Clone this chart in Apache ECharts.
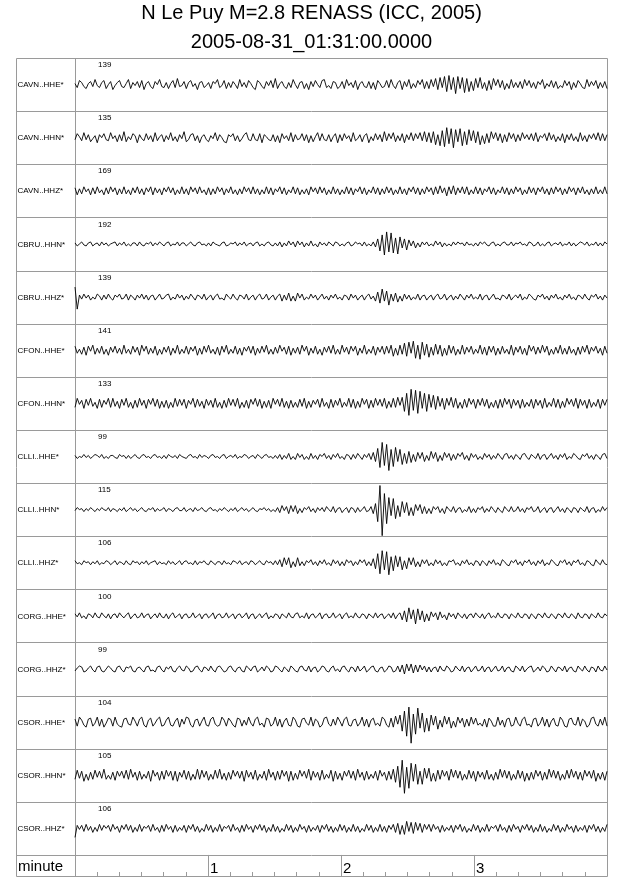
<!DOCTYPE html>
<html><head><meta charset="utf-8">
<script src="https://cdn.jsdelivr.net/npm/echarts@6/dist/echarts.min.js"></script>
<style>html,body{margin:0;padding:0;background:#fff}#c{width:640px;height:878px}</style>
</head><body><div id="c"></div>
<script>
const titleLines = ['N Le Puy M=2.8 RENASS (ICC, 2005)', '2005-08-31_01:31:00.0000'];
const stations = ['CAVN..HHE*','CAVN..HHN*','CAVN..HHZ*','CBRU..HHN*','CBRU..HHZ*','CFON..HHE*','CFON..HHN*','CLLI..HHE*','CLLI..HHN*','CLLI..HHZ*','CORG..HHE*','CORG..HHZ*','CSOR..HHE*','CSOR..HHN*','CSOR..HHZ*'];
const maxCounts = [139,135,169,192,139,141,133,99,115,106,100,99,104,105,106];
const axisName = 'minute';
const tickLabels = ['1','2','3'];
const timeRange = [0, 4]; // minutes

const cavnHHE = [
1,-3,4,2,-2,-4,1,3,-2,5,-1,-3,2,4,-4,0,3,-5,-1,2,
4,-2,-3,1,5,-4,2,-1,3,-3,4,-5,1,3,-2,-4,3,0,5,-2,
-3,2,-4,1,4,-3,6,-2,-1,3,-4,2,4,-2,1,-5,2,3,-3,-1,
2,-4,3,1,5,-3,-1,4,-4,2,-3,3,0,-4,5,-2,2,-3,4,1,
-3,-5,4,2,-2,-4,3,-1,4,-3,6,-4,1,3,-2,-4,2,-3,5,0,
-4,2,3,-4,1,-5,3,-2,4,0,-3,4,5,-3,-1,-4,3,2,-4,-2,
3,-4,5,-1,2,-3,4,-5,1,3,-2,-3,3,-4,2,-5,4,1,-3,-2,
4,-3,5,-1,-4,2,4,-5,3,-2,5,-4,1,-3,4,0,5,-4,3,-4,
5,-2,6,-5,7,-3,8,-7,9,-5,7,-9,8,-4,7,-8,6,-7,3,-6,
6,-3,7,-4,2,-6,4,-5,6,-1,5,-3,4,-5,1,-4,5,-3,2,-3,
3,-4,5,-1,4,-3,2,-4,3,0,5,-4,1,-2,4,-3,3,-4,-1,-3,
4,-1,3,-5,2,-3,4,1,-3,-4,5,-2,3,-1,4,-4,2,-3,3,-4];
const cavnHHN = [
-2,4,1,-3,5,-2,3,-4,-1,2,-5,3,0,4,-2,-3,5,-1,2,-4,
3,-3,6,-4,1,-2,4,2,-5,3,-1,-3,4,-2,2,-4,5,-3,1,3,
-4,2,-2,5,-3,1,-4,3,-1,6,-4,-2,3,4,-3,2,-5,1,3,-2,
-4,2,-1,5,-3,3,0,-4,-5,3,1,4,-3,2,-4,-1,3,5,-2,-3,
4,-2,-3,4,-5,3,1,-2,-3,3,-4,2,-5,4,-1,2,-3,5,-4,3,
-2,-1,4,-3,3,-5,2,-4,1,5,-3,4,-2,-3,3,-4,1,4,-5,3,
-3,4,-1,2,-4,5,-3,-1,3,-4,2,4,-5,1,-3,4,-2,3,-4,6,
-3,4,-1,5,-4,2,-3,4,-5,3,-2,5,-3,4,-1,5,-3,6,-4,5,
-5,6,-7,3,-8,7,-9,10,-6,9,-10,8,-4,9,-8,6,-7,8,-3,7,
-5,6,-7,2,-6,4,-5,6,-1,5,-3,4,-5,3,-4,5,-1,4,-4,3,
-3,5,-1,3,-2,4,-3,5,-4,2,0,4,-3,5,-2,3,-4,1,-3,4,
-5,3,-2,4,-3,1,-4,5,-3,2,-4,3,-1,4,-2,5,-3,4,-3,3];
const cavnHHZ = [
3,-4,2,-3,4,-1,2,-4,3,-3,4,-2,1,-4,3,-3,4,-1,3,-4,
2,-3,4,-3,1,-4,3,-2,4,-3,2,-4,3,-1,4,-4,3,-2,2,-4,
3,-1,4,-2,3,-4,1,-3,4,-3,2,-4,4,-1,3,-3,4,-2,1,-4,
3,-4,2,-3,4,-1,3,-4,2,-2,4,-3,1,-4,2,-3,4,-1,3,-3,
4,-3,2,-4,1,-3,4,-3,3,-4,2,-1,4,-3,3,-4,1,-2,4,-3,
3,-4,1,-3,2,-4,4,-1,3,-3,4,-2,3,-4,1,-3,4,-3,2,-4,
1,-3,4,-3,3,-4,2,-1,4,-3,3,-4,1,-2,4,-3,3,-4,2,-3,
4,-2,3,-4,1,-3,4,-3,2,-4,3,-1,4,-3,3,-4,2,-3,4,-1,
3,-4,4,-3,5,-2,3,-5,4,-3,5,-4,3,-2,4,-3,4,-4,1,-3,
4,-3,3,-4,2,-1,4,-3,3,-4,1,-2,4,-3,3,-4,2,-3,4,-1,
3,-4,1,-3,4,-2,3,-4,3,-1,4,-3,2,-4,3,-3,4,-1,3,-4,
2,-3,4,-1,3,-4,3,-2,4,-3,1,-4,2,-3,4,-3,1,-3,4,-3];
const cbruHHN = [
1,-2,0,2,-1,-2,1,2,-2,0,1,-2,2,-1,1,-2,0,1,2,-2,
1,-1,2,-2,0,-2,1,1,-2,2,-1,-2,1,0,2,-2,1,-1,2,0,
-2,1,2,-2,0,-1,2,-2,1,1,-2,0,2,-1,-2,1,2,-1,0,-2,
1,-2,2,0,-1,-2,1,2,-2,-1,1,0,2,-2,1,-1,2,-2,0,1,
-2,1,2,-2,0,-2,1,2,-1,-2,1,-2,2,-3,1,-2,3,-1,2,-3,
3,-1,2,-3,1,-2,3,-2,0,-3,2,-1,1,-2,2,0,-2,2,1,-2,
0,-2,1,2,-2,-1,2,0,1,-2,2,-2,0,-2,2,-3,5,-7,9,-11,
12,-8,11,-9,6,-10,7,-4,5,-6,4,-2,3,-4,1,-3,2,-1,2,-2,
0,-2,3,-1,2,-3,1,-2,0,-2,2,-1,2,0,1,-2,2,-1,0,-2,
1,-2,2,0,2,-1,-2,1,2,-2,0,-2,1,2,-1,-1,2,-2,1,0,
2,-1,0,-2,2,1,-2,-1,2,-2,0,-2,1,2,-2,0,1,-1,2,-2,
0,-1,2,-2,1,-2,0,2,1,-1,2,-2,0,-1,2,-2,1,-2,2,0];
const cbruHHZ = [
10,-12,2,-2,3,-1,2,-3,0,-2,3,1,-3,2,-2,3,-1,-3,2,0,
3,-2,-1,3,-3,2,0,-3,2,-1,3,-2,2,-3,1,2,-3,0,3,-2,
-1,2,3,-3,0,-2,3,-1,2,-3,1,-2,3,0,-3,2,1,-2,3,-3,
0,2,-3,1,3,-2,-1,-3,3,0,-2,3,-1,-3,2,1,-2,3,-3,0,
2,-3,1,3,-2,-1,3,-3,0,2,-3,1,3,-4,2,-3,4,-4,1,-4,
4,-1,3,-3,0,-2,3,-1,2,-3,0,3,-2,1,-3,2,-1,3,-2,0,
-3,2,1,-3,3,-1,2,-3,0,2,-3,1,3,-2,1,-4,5,-6,8,-4,
6,-8,3,-4,4,-5,1,-4,3,-2,2,-3,0,-2,3,-3,1,2,-3,0,
2,-3,1,3,-2,-1,3,-3,0,2,-3,1,-2,3,0,-3,2,-1,3,-2,
0,-2,3,-3,1,2,-3,0,3,-2,-1,-3,2,1,-2,3,-3,0,2,-1,
3,-3,0,-2,3,1,-2,-3,2,0,3,-2,1,-3,2,-1,3,-2,0,-3,
2,-1,3,-2,0,-3,2,1,-2,3,-1,-3,2,0,3,-2,1,-3,2,-1];
const cfonHHE = [
4,-3,1,-4,3,-5,4,-1,5,-4,2,-3,4,-4,1,-5,3,-2,4,-3,
2,-4,5,-3,1,-4,4,-2,3,-5,5,-1,4,-4,2,-3,4,-5,1,-4,
3,-2,4,-5,2,-3,5,-4,1,-3,4,-4,3,-1,4,-5,2,-4,4,-2,
5,-3,1,-4,3,-5,4,-2,5,-4,1,-3,4,-4,2,-5,3,-1,4,-3,
4,-5,2,-3,4,-2,5,-4,1,-4,3,-3,5,-1,3,-4,4,-5,2,-3,
3,-4,5,-1,4,-5,2,-3,4,-4,1,-5,3,-2,4,-3,5,-4,1,-4,
5,-2,3,-4,4,-1,4,-5,2,-3,5,-4,1,-3,4,-5,3,-2,4,-4,
4,-3,5,-6,2,-5,5,-4,7,-6,8,-3,9,-8,5,-9,8,-5,6,-7,
3,-5,6,-4,5,-6,2,-5,5,-3,4,-5,1,-4,5,-4,3,-2,4,-4,
1,-3,5,-4,3,-5,4,-2,4,-5,2,-4,4,-3,1,-4,5,-5,3,-2,
4,-4,2,-5,5,-1,4,-4,3,-3,5,-2,4,-5,1,-4,3,-3,5,-4,
2,-4,4,-3,1,-5,3,-4,4,-2,5,-4,3,-1,4,-3,2,-5,4,-3];
const cfonHHN = [
-4,5,-1,3,-5,4,-2,5,-3,1,-5,4,-4,3,-1,5,-4,5,-3,2,
-5,4,-2,5,-4,1,-5,3,-4,5,-2,3,-5,4,-1,5,-3,4,-5,2,
-4,3,-5,1,-4,5,-3,4,-2,4,-5,3,-1,5,-4,4,-3,2,-5,4,
-2,3,-4,5,-4,1,-5,3,-4,5,-2,4,-3,5,-5,1,-4,3,-5,4,
-1,5,-3,4,-5,2,-4,3,-5,5,-1,4,-3,5,-4,2,-5,3,-4,1,
-4,4,-3,5,-5,2,-4,3,-1,4,-4,5,-3,1,-5,4,-4,3,-2,5,
-4,1,-3,5,-4,4,-5,2,-4,5,-1,4,-5,3,-4,5,-2,4,-3,5,
-5,2,-4,5,-4,6,-2,6,-8,10,-12,14,-7,13,-10,12,-5,10,-8,9,
-4,8,-6,7,-3,5,-6,5,-2,6,-4,5,-5,1,-5,4,-4,5,-1,4,
-5,4,-2,5,-3,4,-5,1,-4,3,-5,4,-4,5,-1,4,-5,4,-2,3,
-5,4,-4,1,-3,4,-5,4,-2,3,-5,5,-4,1,-3,5,-4,4,-5,2,
-4,5,-1,4,-3,5,-5,4,-2,3,-5,4,-4,1,-3,4,-5,4,-2,4];
const clliHHE = [
1,-2,0,-1,2,-1,1,-2,0,2,1,-1,2,-2,0,-2,1,1,-1,-2,
2,0,1,-2,1,-2,0,2,-1,-2,1,2,-1,0,-2,1,2,-1,0,-2,
1,-2,2,0,-1,1,-2,2,0,-1,-2,1,2,-1,0,-2,2,-1,1,0,
-2,1,2,-1,0,-2,1,2,-2,0,1,-1,2,-2,0,-1,2,1,-2,0,
1,-2,2,0,-2,1,2,-1,0,-2,1,-2,2,-3,1,-2,3,-3,0,-3,
3,-1,2,-3,0,-3,3,-2,1,-3,2,0,3,-2,1,-3,2,-1,3,-2,
0,-3,2,1,-3,2,-2,3,0,-3,2,-1,3,-3,4,-5,8,-11,14,-9,
12,-14,7,-10,9,-5,7,-8,3,-7,5,-6,2,-5,4,-2,4,-5,1,-4,
5,-2,4,-5,1,-4,4,-1,3,-4,2,-3,3,0,4,-3,1,-4,3,-1,
2,-3,0,-3,3,-1,2,-3,1,-2,3,0,-3,2,3,-2,1,-3,2,0,
-3,2,3,-1,-3,2,0,-2,3,-3,1,2,-3,0,3,-2,1,-3,2,-1,
3,-3,0,-2,3,1,-2,-3,2,0,3,-2,1,-3,2,0,-3,2,3,-2];
const clliHHN = [
-1,2,0,1,-2,1,-1,2,0,-2,1,-1,2,0,-1,2,-2,1,0,-2,
1,-1,2,-2,0,2,-1,1,-2,0,2,-1,-2,1,0,2,-2,1,-1,0,
2,-2,1,0,-2,1,2,-1,-1,2,-2,0,1,-2,2,-1,0,2,-1,-2,
1,2,-1,0,-2,1,-1,2,0,-2,1,-1,2,-2,0,2,-1,1,-2,0,
2,-1,-2,1,0,2,-1,1,-2,0,-2,2,-3,4,-1,3,-4,4,-2,4,
-4,1,-3,2,0,3,-2,1,-3,2,-1,2,-2,3,0,-2,3,-3,1,2,
-3,0,2,-3,2,1,-3,2,-2,0,3,-2,-1,3,-4,6,-12,24,-26,16,
-14,12,-6,11,-9,4,-7,8,-3,7,-6,2,-6,5,-1,5,-4,3,-4,1,
-4,3,0,3,-3,1,-4,3,0,-2,3,-3,1,2,-3,0,-2,3,-3,1,
-3,2,0,3,-3,1,-2,3,0,-3,2,-1,-3,3,0,-2,3,-2,-1,3,
-2,1,-3,2,0,3,-2,-1,3,-3,0,2,-3,1,2,-3,0,3,-2,1,
-3,2,0,-3,2,1,-3,2,0,-2,3,-3,1,2,-3,0,-2,3,-1,2];
const clliHHZ = [
2,-1,0,-2,2,0,1,-2,1,-1,2,-2,0,-1,2,1,-2,0,2,-2,
1,0,-2,2,-1,-2,2,0,1,-2,1,-1,2,-2,0,1,2,-2,1,-1,
0,-2,2,-1,1,-2,0,2,-2,1,2,-1,0,-2,2,-2,1,0,2,-1,
-2,2,0,-2,1,1,-2,2,-1,0,-2,2,1,-1,2,-2,0,1,-2,2,
1,-2,0,2,-1,-2,2,0,1,-2,2,-2,3,-4,5,-2,5,-5,1,-4,
5,-3,1,-3,2,0,3,-2,1,-3,2,-1,3,-2,0,-3,3,-1,2,-3,
1,-3,3,0,2,-3,1,-2,3,0,3,-3,1,-3,4,-6,9,-11,12,-7,
11,-12,6,-8,7,-4,6,-7,2,-6,5,-2,5,-4,1,-4,3,-1,3,-3,
0,-3,3,-1,2,-3,0,-3,2,1,3,-2,0,-3,2,-1,3,-2,0,-3,
2,1,-3,2,0,-3,2,-1,3,-2,0,-3,3,1,-2,-3,2,0,3,-2,
1,-3,2,0,3,-2,1,-3,2,-1,3,-3,0,-2,3,1,-2,-3,2,0,
3,-2,1,-3,2,0,3,-2,0,-3,2,1,-2,-3,3,0,-2,3,-1,-2];
const corgHHE = [
2,-1,3,-2,0,-3,2,1,-2,3,-1,-2,3,0,-2,2,-3,1,2,-2,
3,0,-2,1,3,-3,0,2,-2,-1,3,-2,1,2,-3,0,2,-2,3,-1,
-2,2,-3,1,3,-2,0,2,-3,1,2,-2,-1,3,-2,0,2,-3,1,2,
-2,0,3,-3,1,2,-2,-1,3,-2,0,2,-3,1,2,-2,0,3,-3,1,
2,-3,0,2,-2,1,3,-3,0,-2,2,1,-3,2,0,-2,3,-1,-2,2,
3,-2,0,-2,3,-3,1,2,-2,0,3,-3,1,2,-2,-1,3,-2,0,2,
-3,1,3,-2,0,-2,3,-1,-2,2,1,-3,2,0,-2,3,-2,1,2,-3,
0,2,-2,3,-3,1,3,-4,5,-6,8,-3,6,-8,7,-4,5,-6,2,-5,
4,-1,3,-4,4,-2,1,-4,3,-1,2,-3,3,0,-2,2,-3,1,2,-2,
3,0,-2,2,-3,1,3,-2,0,-2,3,-1,-2,2,1,-3,2,0,-2,3,
-1,-2,2,1,-3,2,0,-3,2,1,-2,3,-1,-2,2,0,-3,2,1,-2,
3,-1,-2,2,0,-3,3,-1,-2,2,1,-3,2,0,-2,3,-1,-2,2,0];
const corgHHZ = [
-2,1,3,2,-3,-2,1,3,-1,-3,2,3,-2,-3,0,3,1,-2,-3,2,
3,-1,-3,2,1,3,-2,-3,1,2,-1,-3,2,3,-2,-1,-3,2,3,-1,
-3,2,0,3,-2,-3,1,3,-1,-2,3,1,-3,-2,2,3,-1,-3,2,1,
-2,3,-1,-3,2,3,0,-3,-2,2,3,-1,-3,1,2,-2,-3,3,1,-2,
2,3,-3,-1,2,-2,3,1,-3,-2,3,2,-1,-3,2,0,-3,3,1,-2,
-3,2,3,-1,-2,3,-3,1,2,-3,-1,3,2,-2,-3,1,3,-2,0,-3,
2,3,-1,-3,2,1,-3,3,-2,0,3,-3,-1,2,3,-2,-3,1,2,-3,
-1,3,2,-3,-2,3,-3,4,-5,5,-2,5,-4,4,-3,4,-1,3,-3,2,
-3,1,2,-3,3,-1,-2,3,1,-3,-2,3,0,-2,3,-3,1,2,-3,0,
3,-2,-1,3,-3,1,2,-3,0,3,-2,-1,3,-3,1,2,-2,-3,3,1,
-2,3,-3,0,2,3,-3,-1,2,-2,3,1,-3,-2,3,0,-3,2,1,-2,
3,-3,1,2,-2,-3,3,0,-2,3,-1,-3,2,1,-3,3,-1,-2,3,-1];
const csorHHE = [
3,-4,5,2,-3,-5,3,4,-4,-1,5,-4,3,-5,-1,4,3,-4,5,-2,
-4,-5,3,4,-2,-3,5,1,-4,3,5,-3,-5,2,4,-4,-1,3,5,-4,
-3,2,5,-3,-4,1,4,-5,3,-2,5,4,-3,-5,2,3,-4,1,5,-3,
-4,3,5,-2,-4,-3,5,2,-4,4,1,-3,-5,4,3,-4,2,-3,5,-1,
-4,3,5,-3,-1,-5,4,3,-4,-2,5,-4,3,-5,1,4,-3,-4,5,2,
-4,-5,3,4,-1,-3,5,-4,3,1,-5,-3,4,5,-2,-4,3,-3,5,1,
-4,3,5,-3,-4,2,3,-4,-1,5,-4,3,-5,2,4,-3,-1,-4,5,3,
-3,-5,4,-5,6,-2,7,-9,11,-14,15,-21,8,-12,14,-6,9,-10,4,-9,
7,-3,6,-7,2,-5,6,-2,5,-6,1,-5,5,-1,4,-5,3,-4,5,-2,
4,-3,-1,-4,3,-5,4,1,-4,-4,5,-3,2,-5,3,4,-4,-3,5,-1,
-4,3,5,-3,-2,-5,3,4,-4,-1,5,-4,3,-5,1,4,-3,-4,5,2,
-4,-5,3,4,-2,-3,5,-4,3,1,-5,-3,4,5,-2,-4,3,-3,5,-4];
const csorHHN = [
-4,5,-3,4,-6,1,-5,3,-4,5,-2,4,-3,6,-4,0,-4,3,-5,4,
-1,4,-3,5,-4,6,-2,3,-5,4,-4,1,-3,4,-6,5,-1,3,-5,4,
-4,5,-1,4,-5,4,-6,3,-2,5,-4,4,-5,1,-4,6,-4,5,-2,4,
-5,1,-4,5,-3,6,-4,2,-5,3,-4,5,-1,4,-3,4,-6,5,-2,3,
-4,5,-5,1,-3,4,-5,6,-2,3,-5,4,-4,5,-1,4,-6,4,-5,2,
-4,5,-1,4,-3,6,-5,4,-2,3,-5,5,-4,1,-3,5,-6,4,-4,2,
-5,4,-1,5,-3,4,-5,6,-2,3,-5,4,-4,1,-3,4,-5,5,-1,3,
-5,4,-4,6,-7,9,-12,15,-18,8,-13,12,-6,11,-9,4,-9,7,-3,7,
-6,2,-6,5,-4,5,-1,4,-5,6,-2,5,-3,4,-5,1,-4,5,-3,4,
-6,4,-2,3,-4,5,-4,1,-5,3,-4,6,-2,5,-3,4,-5,1,-4,5,
-3,4,-6,2,-5,3,-4,5,-1,4,-5,3,-4,6,-2,5,-3,4,-5,1,
-4,5,-3,6,-2,4,-4,3,-5,5,-1,4,-3,5,-6,2,-4,3,-5,4];
const csorHHZ = [
-9,3,-1,3,-3,4,-2,2,-4,1,-3,4,-2,3,0,3,-3,4,-1,2,
-4,3,-1,4,-2,3,-4,1,-3,4,-3,2,0,3,-3,4,-2,1,-4,3,
-3,4,-1,2,-4,3,-3,1,-2,3,-4,3,-1,4,-3,2,-4,0,-3,4,
-2,3,-4,1,-3,4,-3,2,0,3,-3,4,-2,1,-4,3,-3,4,-1,2,
-4,3,-1,4,-2,3,-4,1,-3,4,-3,2,-4,0,-3,4,-2,3,-4,1,
-3,4,-1,2,-4,3,-3,1,-2,3,-4,3,-1,4,-3,2,-4,1,-3,4,
-2,3,-4,1,-3,4,-3,2,-4,0,-3,4,-2,3,-4,1,-3,4,-3,2,
-4,3,-1,4,-4,5,-6,3,-6,7,-3,6,-5,6,-2,5,-4,4,-1,4,
-3,4,-1,2,-4,3,-3,1,-2,3,-4,3,-1,4,-3,2,-4,0,-3,4,
-2,3,-4,1,-3,4,-3,2,0,3,-3,4,-2,1,-4,3,-3,4,-1,2,
-4,3,-1,4,-2,3,-4,1,-3,4,-3,2,-4,0,-3,4,-2,3,-4,1,
-3,4,-1,2,-4,3,-3,1,-2,3,-4,3,-1,4,-3,2,-4,1,-3,4];

const traces = [cavnHHE,cavnHHN,cavnHHZ,cbruHHN,cbruHHZ,cfonHHE,cfonHHN,clliHHE,clliHHN,clliHHZ,corgHHE,corgHHZ,csorHHE,csorHHN,csorHHZ];

// layout
const W = 640, L = 16, X0 = 75, R = 607, T = 58, RH = 53.13, B = 876;
const FONT = '"Liberation Sans", Arial, Helvetica, sans-serif';
const LINE = '#9a9a9a';

const grids = [], xAxes = [], yAxes = [], series = [], graphics = [];

graphics.push({type:'text', x:(L+R)/2, y:13, style:{text:titleLines[0], font:'20px '+FONT, fill:'#000', align:'center', verticalAlign:'middle'}});
graphics.push({type:'text', x:(L+R)/2, y:42, style:{text:titleLines[1], font:'20px '+FONT, fill:'#000', align:'center', verticalAlign:'middle'}});

traces.forEach((tr, i) => {
  const top = T + i * RH;
  grids.push({left: X0, right: W - R, top: top, height: RH});
  xAxes.push({type:'value', gridIndex:i, min:timeRange[0], max:timeRange[1], show:false});
  yAxes.push({type:'value', gridIndex:i, min:-26.5, max:26.5, show:false});
  const step = (timeRange[1] - timeRange[0]) / (tr.length - 1);
  series.push({
    type:'line', xAxisIndex:i, yAxisIndex:i, silent:true,
    showSymbol:false, symbol:'none',
    data: tr.map((v, k) => [timeRange[0] + k * step, v]),
    lineStyle:{color:'#000', width:0.9}
  });
  graphics.push({type:'text', x:L+1.5, y:top+27, style:{text:stations[i], font:'8px '+FONT, fill:'#000', verticalAlign:'middle'}});
  graphics.push({type:'text', x:98, y:top+7, style:{text:String(maxCounts[i]), font:'8px '+FONT, fill:'#000', verticalAlign:'middle'}});
  if (i > 0) graphics.push({type:'line', shape:{x1:L, y1:Math.round(top)+0.5, x2:R, y2:Math.round(top)+0.5}, style:{stroke:LINE, lineWidth:1}});
});

// time axis row
const ai = traces.length;
const axTop = T + ai * RH;
graphics.push({type:'line', shape:{x1:L, y1:Math.round(axTop)+0.5, x2:R, y2:Math.round(axTop)+0.5}, style:{stroke:LINE, lineWidth:1}});
graphics.push({type:'line', shape:{x1:X0+0.5, y1:T, x2:X0+0.5, y2:B}, style:{stroke:LINE, lineWidth:1}});
graphics.push({type:'rect', shape:{x:L+0.5, y:T+0.5, width:R-L, height:B-T}, style:{fill:'none', stroke:LINE, lineWidth:1}});
graphics.push({type:'text', x:L+2, y:(axTop+B)/2+1.5, style:{text:axisName, font:'15px '+FONT, fill:'#000', verticalAlign:'middle'}});

grids.push({left: X0, right: W - R, top: axTop, height: B - axTop});
xAxes.push({
  type:'value', gridIndex:ai, min:timeRange[0], max:timeRange[1], interval:1, position:'bottom',
  axisLine:{show:false},
  axisTick:{show:true, inside:true, length:B-axTop, lineStyle:{color:LINE, width:1}},
  minorTick:{show:true, splitNumber:6, length:4, lineStyle:{color:LINE, width:1}},
  splitLine:{show:false},
  axisLabel:{inside:true, margin:0, align:'left', padding:[0,0,0,2], fontSize:15, fontFamily:FONT, color:'#000',
    formatter: v => (v >= 1 && v <= 3) ? tickLabels[v - 1] : ''}
});
yAxes.push({type:'value', gridIndex:ai, show:false, min:0, max:1});

const chart = echarts.init(document.getElementById('c'), null, {renderer:'canvas'});
chart.setOption({
  animation:false,
  backgroundColor:'#fff',
  grid: grids, xAxis: xAxes, yAxis: yAxes, series: series,
  graphic: graphics
});
</script></body></html>
